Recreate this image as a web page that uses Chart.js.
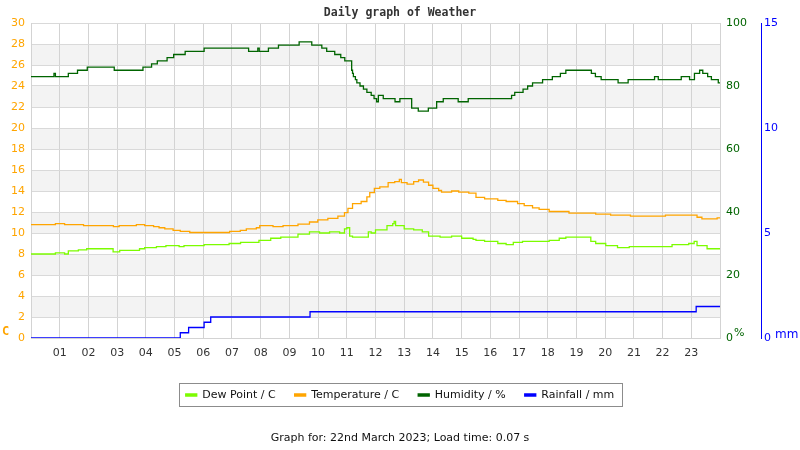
<!DOCTYPE html>
<html>
<head>
<meta charset="utf-8">
<script src="https://cdn.jsdelivr.net/npm/chart.js@4/dist/chart.umd.min.js"></script>
<style>
  html, body { margin: 0; padding: 0; background: #fff; }
</style>
</head>
<body>
<canvas id="chart" width="800" height="450"></canvas>
<script>
// hour tick labels
const hourLabels = ['01','02','03','04','05','06','07','08','09','10','11','12',
                    '13','14','15','16','17','18','19','20','21','22','23'];

// dew point (C) - time in hours, value holds until next time
const dewTimes  = [0, 0.85, 1.17, 1.3, 1.65, 1.94, 2.86, 3.09, 3.78, 3.96, 4.37, 4.7, 5.16, 5.33, 6.03, 6.9, 7.3, 7.94, 8.35, 8.7,
                   9.3, 9.7, 10.05, 10.4, 10.75, 10.92, 11.0, 11.1, 11.2, 11.75, 11.85, 12.0, 12.4, 12.6, 12.65, 12.7, 13.0, 13.33, 13.63, 13.85,
                   14.25, 14.65, 15.0, 15.4, 15.5, 15.8, 16.26, 16.55, 16.8, 17.12, 18.05, 18.4, 18.63, 19.5, 19.67, 20.02, 20.43, 20.84, 22.33, 22.91,
                   23.1, 23.2, 23.55, 24];
const dewValues = [8.0, 8.1, 8.0, 8.3, 8.4, 8.5, 8.2, 8.35, 8.5, 8.6, 8.7, 8.8, 8.7, 8.8, 8.9, 9.0, 9.1, 9.3, 9.5, 9.6,
                   9.9, 10.1, 10.0, 10.1, 10.0, 10.4, 10.5, 9.7, 9.6, 10.1, 10.0, 10.3, 10.7, 10.9, 11.1, 10.7, 10.4, 10.3, 10.1, 9.7,
                   9.6, 9.7, 9.5, 9.4, 9.3, 9.2, 9.0, 8.9, 9.1, 9.2, 9.3, 9.5, 9.6, 9.2, 9.0, 8.8, 8.6, 8.7, 8.9, 9.0,
                   9.2, 8.8, 8.5, 8.5];

// temperature (C)
const tempTimes  = [0, 0.85, 1.17, 1.83, 2.87, 3.07, 3.67, 3.96, 4.27, 4.46, 4.66, 4.95, 5.2, 5.53, 6.92, 7.29, 7.5, 7.85, 7.97, 8.43,
                    8.78, 9.3, 9.7, 9.99, 10.34, 10.69, 10.92, 11.04, 11.2, 11.5, 11.7, 11.8, 11.96, 12.15, 12.44, 12.67, 12.83, 12.9, 13.1, 13.33,
                    13.5, 13.67, 13.85, 14.0, 14.2, 14.3, 14.65, 14.9, 15.25, 15.5, 15.8, 16.26, 16.55, 16.95, 17.18, 17.47, 17.7, 18.05, 18.74, 19.67,
                    20.19, 20.88, 21.7, 22.1, 23.2, 23.37, 23.9, 24];
const tempValues = [10.8, 10.9, 10.8, 10.7, 10.6, 10.7, 10.8, 10.7, 10.6, 10.5, 10.4, 10.25, 10.15, 10.05, 10.15, 10.25, 10.4, 10.5, 10.7, 10.6,
                    10.7, 10.85, 11.05, 11.25, 11.4, 11.6, 11.95, 12.35, 12.8, 13.0, 13.45, 13.85, 14.25, 14.4, 14.8, 14.9, 15.1, 14.8, 14.65, 14.9,
                    15.05, 14.85, 14.55, 14.25, 14.05, 13.9, 14.0, 13.9, 13.8, 13.4, 13.25, 13.1, 13.0, 12.8, 12.6, 12.4, 12.25, 12.05, 11.9, 11.8,
                    11.7, 11.6, 11.6, 11.7, 11.5, 11.35, 11.45, 11.45];

// humidity (%)
const humTimes  = [0, 0.8, 0.85, 1.3, 1.62, 1.96, 2.9, 3.9, 4.2, 4.4, 4.74, 4.97, 5.37, 6.03, 7.58, 7.9, 7.95, 8.27, 8.62, 9.34,
                   9.78, 10.13, 10.3, 10.58, 10.79, 10.93, 11.17, 11.2, 11.23, 11.3, 11.35, 11.46, 11.58, 11.7, 11.85, 11.95, 12.04, 12.1, 12.27, 12.68,
                   12.85, 13.26, 13.49, 13.84, 14.13, 14.36, 14.88, 15.23, 16.74, 16.85, 17.14, 17.3, 17.47, 17.82, 18.16, 18.44, 18.63, 19.52, 19.66, 19.86,
                   20.45, 20.8, 21.72, 21.85, 22.65, 22.94, 23.11, 23.29, 23.4, 23.57, 23.7, 23.94, 24];
const humValues = [83, 84, 83, 84, 85, 86, 85, 86, 87, 88, 89, 90, 91, 92, 91, 92, 91, 92, 93, 94,
                   93, 92, 91, 90, 89, 88, 85, 84, 83, 82, 81, 80, 79, 78, 77, 76, 75, 77, 76, 75,
                   76, 73, 72, 73, 75, 76, 75, 76, 77, 78, 79, 80, 81, 82, 83, 84, 85, 84, 83, 82,
                   81, 82, 83, 82, 83, 82, 84, 85, 84, 83, 82, 81, 81];

// rainfall (mm)
const rainTimes  = [0, 5.2, 5.49, 6.03, 6.26, 9.72, 23.17, 24];
const rainValues = [0, 0.25, 0.5, 0.75, 1.0, 1.25, 1.5, 1.5];

function toPoints(times, values) {
    return times.map((t, i) => ({ x: t, y: values[i] }));
}

// alternating grey bands behind the grid
const bandPlugin = {
    id: 'bands',
    beforeDraw(chart) {
        const { ctx, chartArea, scales } = chart;
        const y = scales.y;
        ctx.save();
        ctx.fillStyle = '#f3f3f3';
        for (let v = 2; v < 30; v += 4) {
            const top = y.getPixelForValue(v + 2);
            const bottom = y.getPixelForValue(v);
            ctx.fillRect(chartArea.left, top, chartArea.right - chartArea.left, bottom - top);
        }
        ctx.restore();
    }
};

// unit labels and the box round the legend
const extrasPlugin = {
    id: 'extras',
    afterDraw(chart) {
        const ctx = chart.ctx;
        const area = chart.chartArea;
        ctx.save();
        ctx.textBaseline = 'middle';
        ctx.textAlign = 'left';
        ctx.font = 'bold 12px "DejaVu Sans Mono"';
        ctx.fillStyle = '#ffa500';
        ctx.fillText('C', 2, area.bottom - 6);
        ctx.font = '11px "DejaVu Sans"';
        ctx.fillStyle = '#006400';
        ctx.fillText('%', 734, area.bottom - 5);
        ctx.font = '12px "DejaVu Sans"';
        ctx.fillStyle = '#0000ff';
        ctx.fillText('mm', 775, area.bottom - 3);

        const legend = chart.legend;
        if (legend && legend.legendHitBoxes.length) {
            const boxes = legend.legendHitBoxes;
            const left = Math.min(...boxes.map(b => b.left)) - 7;
            const right = Math.max(...boxes.map(b => b.left + b.width)) + 7;
            ctx.strokeStyle = '#8c8c8c';
            ctx.lineWidth = 1;
            ctx.strokeRect(Math.round(left) + 0.5, 383.5, Math.round(right - left), 23);
        }
        ctx.restore();
    }
};

createChart();

function createChart() {
    const ctx = document.getElementById('chart');

    new Chart(ctx, {
        type: 'line',
        data: {
            datasets: [
                {
                    label: 'Dew Point / C',
                    data: toPoints(dewTimes, dewValues),
                    borderColor: '#7cfc00',
                    backgroundColor: '#7cfc00',
                    yAxisID: 'y'
                },
                {
                    label: 'Temperature / C',
                    data: toPoints(tempTimes, tempValues),
                    borderColor: '#ffa500',
                    backgroundColor: '#ffa500',
                    yAxisID: 'y'
                },
                {
                    label: 'Humidity / %',
                    data: toPoints(humTimes, humValues),
                    borderColor: '#006400',
                    backgroundColor: '#006400',
                    yAxisID: 'y1'
                },
                {
                    label: 'Rainfall / mm',
                    data: toPoints(rainTimes, rainValues),
                    borderColor: '#0000ff',
                    backgroundColor: '#0000ff',
                    yAxisID: 'y2'
                }
            ]
        },
        options: {
            responsive: false,
            animation: false,
            layout: { padding: 0 },
            elements: {
                point: { radius: 0 },
                line: { borderWidth: 1.3, stepped: 'before', tension: 0 }
            },
            plugins: {
                title: {
                    display: true,
                    text: 'Daily graph of Weather',
                    color: '#333',
                    font: { family: '"DejaVu Sans Mono"', size: 11.5, weight: 'bold' },
                    padding: { top: 6, bottom: 3.2 }
                },
                subtitle: {
                    display: true,
                    position: 'bottom',
                    text: 'Graph for: 22nd March 2023; Load time: 0.07 s',
                    color: '#111',
                    font: { family: '"DejaVu Sans"', size: 11 },
                    padding: { top: 21.3, bottom: 5 }
                },
                legend: {
                    position: 'bottom',
                    labels: {
                        color: '#111',
                        font: { family: '"DejaVu Sans"', size: 11 },
                        boxWidth: 11,
                        boxHeight: 2,
                        padding: 19
                    }
                },
                tooltip: { enabled: false }
            },
            scales: {
                x: {
                    type: 'linear',
                    min: 0,
                    max: 24,
                    ticks: {
                        stepSize: 1,
                        color: '#333',
                        font: { family: '"DejaVu Sans"', size: 11 },
                        padding: 9,
                        maxRotation: 0,
                        autoSkip: false,
                        callback: v => (v >= 1 && v <= 23) ? hourLabels[v - 1] : ''
                    },
                    grid: { color: '#d3d3d3', drawTicks: false },
                    border: { color: '#d3d3d3' },
                    afterFit: s => { s.height = 32.5; }
                },
                y: {
                    position: 'left',
                    min: 0,
                    max: 30,
                    ticks: {
                        stepSize: 2,
                        color: '#ffa500',
                        font: { family: '"DejaVu Sans"', size: 11 },
                        padding: 6
                    },
                    grid: { color: '#d9d9d9', drawTicks: false },
                    border: { color: '#d3d3d3' },
                    afterFit: s => { s.width = 31; }
                },
                y1: {
                    position: 'right',
                    min: 0,
                    max: 100,
                    ticks: {
                        stepSize: 20,
                        color: '#006400',
                        font: { family: '"DejaVu Sans"', size: 11 },
                        padding: 6
                    },
                    grid: { drawOnChartArea: false, drawTicks: false },
                    border: { display: false },
                    afterFit: s => { s.width = 41; }
                },
                y2: {
                    position: 'right',
                    min: 0,
                    max: 15,
                    ticks: {
                        stepSize: 5,
                        color: '#0000ff',
                        font: { family: '"DejaVu Sans"', size: 11 },
                        padding: 3
                    },
                    grid: { drawOnChartArea: false, drawTicks: false },
                    border: { display: true, color: '#0000ff', width: 1 },
                    afterFit: s => { s.width = 39; }
                }
            }
        },
        plugins: [bandPlugin, extrasPlugin]
    });
}
</script>
</body>
</html>
